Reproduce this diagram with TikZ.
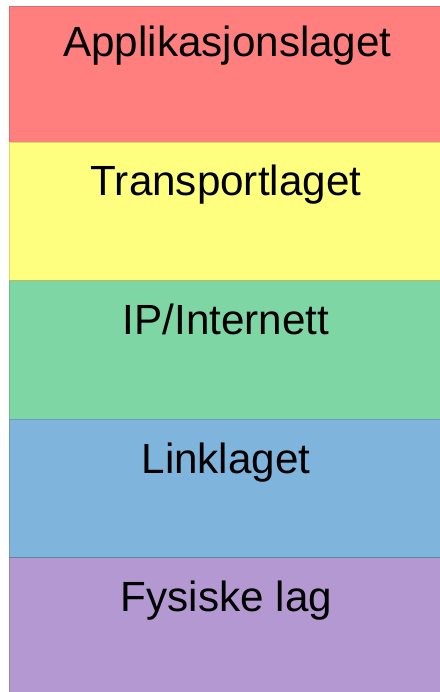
\documentclass[tikz,border=0pt]{standalone}
\usepackage{fontspec}
\setmainfont{Liberation Sans}
\definecolor{appred}{RGB}{255,127,127}
\definecolor{trayellow}{RGB}{255,255,127}
\definecolor{ipgreen}{RGB}{127,214,165}
\definecolor{linkblue}{RGB}{127,181,221}
\definecolor{physpurple}{RGB}{180,152,210}
\tikzset{
  layer/.style={draw=black, draw opacity=0.14, line width=0.8pt},
  layertext/.style={anchor=base, font=\fontsize{42.2}{50}\selectfont, inner sep=0pt}
}
\begin{document}
\begin{tikzpicture}[x=1pt,y=-1pt]
\useasboundingbox (0,0) rectangle (439,692);
% the five layers, top to bottom
\filldraw[layer, fill=appred]     (9,6)     rectangle (446,142);
\filldraw[layer, fill=trayellow]  (9,142)   rectangle (446,280.5);
\filldraw[layer, fill=ipgreen]    (9,280.5) rectangle (446,419);
\filldraw[layer, fill=linkblue]   (9,419)   rectangle (446,557.5);
\filldraw[layer, fill=physpurple] (9,557.5) rectangle (446,700);
% layer names
\node[layertext] (app)  at (227.5,57)  {Applikasjonslaget};
\node[layertext] (tra)  at (226,196) {Transportlaget};
\node[layertext] (ip)   at (226,334) {IP/Internett};
\node[layertext] (link) at (226,473) {Linklaget};
\node[layertext] (phys) at (226.5,611) {Fysiske lag};
\end{tikzpicture}
\end{document}
